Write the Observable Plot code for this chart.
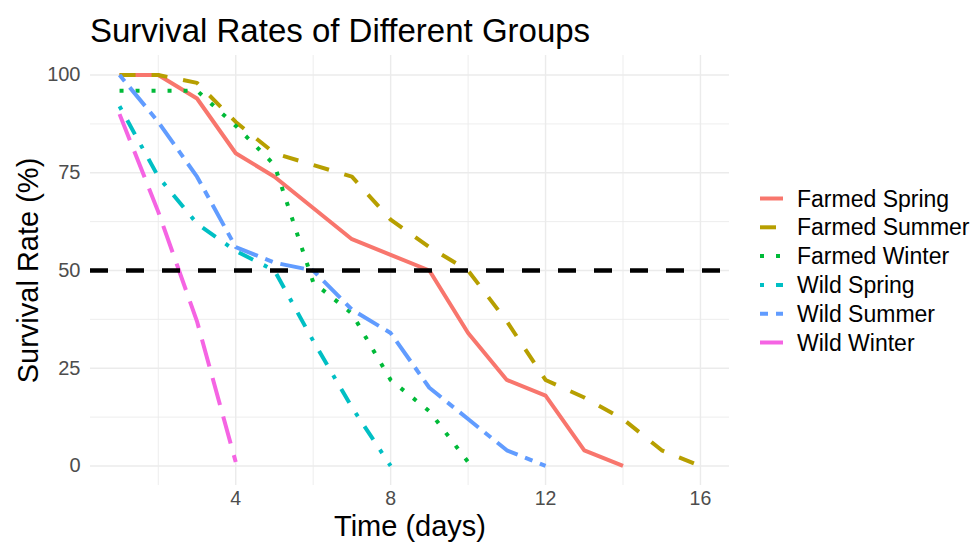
<!DOCTYPE html>
<html><head><meta charset="utf-8">
<script src="https://cdn.jsdelivr.net/npm/d3@7"></script>
<script src="https://cdn.jsdelivr.net/npm/@observablehq/plot@0.6"></script>
<style>
body{margin:0;background:#fff;}
#wrap{position:relative;width:972px;height:543px;font-family:"Liberation Sans",Arial,sans-serif;background:#fff;}
#wrap svg{display:block;}
#legend{position:absolute;left:0;top:0;pointer-events:none;}
</style></head><body><div id="wrap"></div>
<script>
// ---- data ----
const groupNames = ["Farmed Spring","Farmed Summer","Farmed Winter","Wild Spring","Wild Summer","Wild Winter"];
const days = [1,2,3,4,5,6,7,8,9,10,11,12,13,14,15,16];
const farmedSpring = [100,100,94,80,74,66,58,54,50,34,22,18,4,0];
const farmedSummer = [100,100,98,88,80,77,74,63,56,50,37,22,17.5,12,4,0];
const farmedWinter = [96,96,96,87,77,47,39,22,14,1];
const wildSpring   = [92,74,62,55,50,32,15,0];
const wildSummer   = [100,88,74,56,52,50,40,34,20,12,4,0];
const wildWinter   = [90,65,37,1];
const seriesValues = [farmedSpring,farmedSummer,farmedWinter,wildSpring,wildSummer,wildWinter];
const xTicks = [4,8,12,16];
const xMinor = [2,6,10,14];
const yTicks = [0,25,50,75,100];
const yMinor = [12.5,37.5,62.5,87.5];
const threshold = [50];
const titleText = "Survival Rates of Different Groups";
const xLabel = "Time (days)";
const yLabel = "Survival Rate (%)";

// ---- styles ----
const colors = ["#F8766D","#B79F00","#00BA38","#00BFC4","#619CFF","#F564E3"];
const dashes = [null,"16,16","4,12","4,12,16,12","8,8,24,8","28,12"];
const font = "'Liberation Sans', Arial, sans-serif";

const rows = seriesValues.flatMap((vals,i)=>vals.map((v,j)=>({group:groupNames[i], day:days[j], rate:v})));

const wrap = document.getElementById("wrap");

// title (above the plot svg)
const head = d3.create("svg").attr("width",972).attr("height",50);
head.append("text").attr("x",90).attr("y",42).attr("font-family",font).attr("font-size",33).attr("fill","#000").text(titleText);
wrap.appendChild(head.node());

const lineMarks = groupNames.map((g,i)=>{
  const opts = {x:"day", y:"rate", stroke:colors[i], strokeWidth:4, strokeLinecap:"butt", strokeLinejoin:"round"};
  if (dashes[i]) opts.strokeDasharray = dashes[i];
  return Plot.line(rows.filter(r=>r.group===g), opts);
});

const plot = Plot.plot({
  width:972, height:493,
  marginTop:5, marginBottom:58, marginLeft:90, marginRight:243,
  x:{domain:[0.25,16.75]},
  y:{domain:[-5,105]},
  style:{fontFamily:font, background:"white", overflow:"visible"},
  marks:[
    Plot.ruleX(xMinor,{stroke:"#EBEBEB", strokeWidth:0.9}),
    Plot.ruleY(yMinor,{stroke:"#EBEBEB", strokeWidth:0.9}),
    Plot.ruleX(xTicks,{stroke:"#EBEBEB", strokeWidth:1.4}),
    Plot.ruleY(yTicks,{stroke:"#EBEBEB", strokeWidth:1.4}),
    ...lineMarks,
    Plot.ruleY(threshold,{stroke:"black", strokeWidth:4.5, strokeDasharray:"18,18"}),
    Plot.axisX(xTicks,{tickSize:0, tickPadding:6, fontSize:19.5, color:"#4D4D4D", label:null}),
    Plot.axisY(yTicks,{tickSize:0, tickPadding:10, fontSize:20, color:"#4D4D4D", label:null}),
    Plot.text([xLabel],{text:d=>d, frameAnchor:"bottom", textAnchor:"middle", lineAnchor:"bottom", dy:50, fontSize:29, fill:"black"}),
    Plot.text([yLabel],{text:d=>d, frameAnchor:"left", textAnchor:"middle", lineAnchor:"middle", dx:-62, rotate:-90, fontSize:29, fill:"black"})
  ]
});
wrap.appendChild(plot);

// legend (overlay on the right)
const leg = d3.create("svg").attr("id","legend").attr("width",972).attr("height",543);
const g = leg.append("g").attr("font-family",font).attr("font-size",23);
groupNames.forEach((name,i)=>{
  const y = 198.5 + i*28.8;
  const ln = g.append("line").attr("x1",760).attr("x2",783).attr("y1",y).attr("y2",y)
    .attr("stroke",colors[i]).attr("stroke-width",4).attr("stroke-linecap","butt");
  if (dashes[i]) ln.attr("stroke-dasharray",dashes[i]);
  g.append("text").attr("x",797).attr("y",y).attr("dy","0.35em").attr("fill","#000").text(name);
});
wrap.appendChild(leg.node());
</script></body></html>
